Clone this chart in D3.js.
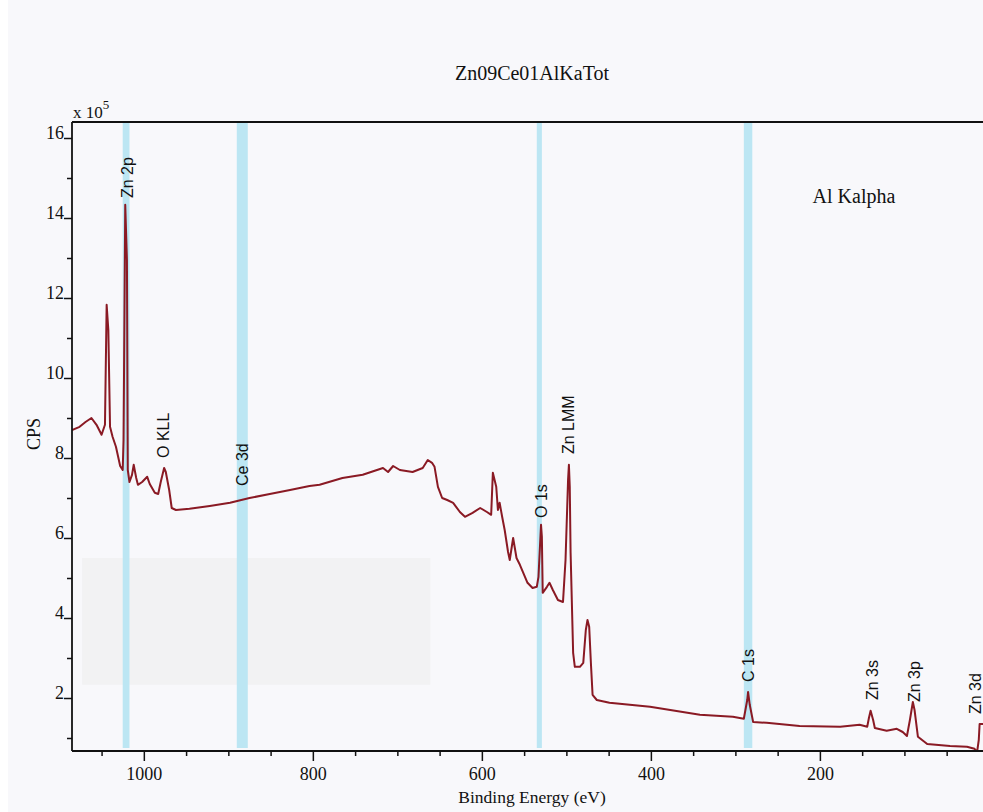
<!DOCTYPE html>
<html>
<head>
<meta charset="utf-8">
<script src="https://cdn.jsdelivr.net/npm/d3@7"></script>
<style>
  html, body { margin: 0; padding: 0; background: #ffffff; }
  svg { display: block; }
</style>
</head>
<body>
<div id="xps-chart"></div>
<script>
// spectrum: binding energy (eV) and counts (x 10^5 CPS)
const bindingEnergy = [
    1085, 1076, 1069, 1062, 1056, 1050, 1046, 1044, 1042, 1040,
    1037, 1033, 1028, 1025, 1024, 1022, 1020, 1019, 1017, 1014,
    1012, 1009, 1007, 1002, 996, 993, 987, 983, 980, 976,
    974, 970, 967, 962, 946, 922, 898, 875, 851, 827,
    804, 792, 765, 741, 717, 711, 705, 697, 682, 670,
    664, 659, 656, 652, 647, 641, 634, 626, 620, 611,
    602, 594, 589, 587, 583, 581, 579, 576, 573, 569,
    567, 563, 559, 555, 551, 546, 540, 535, 533, 530,
    529, 528, 523, 520, 516, 510, 504, 501, 498, 497,
    496, 495, 492, 490, 484, 480, 477, 475, 473, 471,
    469, 464, 449, 401, 342, 303, 290, 286, 285, 283,
    279, 263, 224, 176, 153, 144, 142, 140, 137, 135,
    121, 109, 102, 97, 93.5, 90, 88, 84, 73, 46,
    26, 17, 14, 12, 11, 7
];
const counts = [
    8.70, 8.78, 8.90, 9.00, 8.83, 8.58, 8.83, 11.83, 11.20, 8.78,
    8.53, 8.28, 7.80, 7.70, 8.45, 14.33, 12.95, 7.70, 7.40, 7.58,
    7.83, 7.50, 7.33, 7.40, 7.53, 7.35, 7.13, 7.10, 7.40, 7.75,
    7.65, 7.20, 6.75, 6.70, 6.73, 6.80, 6.88, 7.00, 7.10, 7.20,
    7.30, 7.33, 7.50, 7.58, 7.75, 7.65, 7.80, 7.70, 7.65, 7.75,
    7.95, 7.88, 7.78, 7.28, 7.00, 6.95, 6.88, 6.65, 6.53, 6.63,
    6.75, 6.65, 6.58, 7.63, 7.28, 6.70, 6.88, 6.53, 6.20, 5.65,
    5.45, 6.00, 5.50, 5.33, 5.13, 4.88, 4.75, 4.78, 5.03, 6.33,
    6.03, 4.63, 4.78, 4.88, 4.70, 4.45, 4.40, 5.45, 7.45, 7.83,
    7.28, 5.63, 3.13, 2.78, 2.78, 2.88, 3.70, 3.95, 3.78, 2.88,
    2.08, 1.95, 1.88, 1.78, 1.58, 1.53, 1.48, 1.95, 2.15, 1.83,
    1.40, 1.38, 1.30, 1.28, 1.33, 1.28, 1.50, 1.68, 1.45, 1.25,
    1.18, 1.23, 1.15, 1.05, 1.45, 1.90, 1.70, 1.03, 0.85, 0.80,
    0.78, 0.73, 0.65, 0.95, 1.35, 1.35
];

// peak labels: name, energy (eV), count level where the label starts
const peakNames = ["Zn 2p", "O KLL", "Ce 3d", "O 1s", "Zn LMM", "C 1s", "Zn 3s", "Zn 3p", "Zn 3d"];
const peakEnergy = [1019, 977, 883, 529, 498, 285, 138, 88, 16];
const peakLabelLevel = [14.5, 8.0, 7.3, 6.5, 8.1, 2.4, 1.95, 1.9, 1.6];

// highlighted energy windows (eV): from, to
const bandFrom = [1025, 890, 535, 290];
const bandTo = [1017, 877, 529, 280];

const xMajorTicks = [1000, 800, 600, 400, 200];
const xMinorTicks = [1050, 950, 900, 850, 750, 700, 650, 550, 500, 450, 350, 300, 250, 150, 100, 50];
const yMajorTicks = [2, 4, 6, 8, 10, 12, 14, 16];
const yMinorTicks = [1, 3, 5, 7, 9, 11, 13, 15];

const createSpectrum = () => {
    const width = 983;
    const height = 812;
    const left = 72, right = 983, top = 122, bottom = 751;
    const serif = "'Liberation Serif', 'Times New Roman', serif";

    const svg = d3.select("#xps-chart")
        .append("svg")
        .attr("width", width)
        .attr("height", height);

    // paper background
    svg.append("rect").attr("width", width).attr("height", height).attr("fill", "#f8f8fb");
    svg.append("rect").attr("width", 8).attr("height", height).attr("fill", "#ffffff");

    const xScale = d3.scaleLinear()
        .domain([1085, 7])
        .range([left, right]);

    const yScale = d3.scaleLinear()
        .domain([0.675, 16.4])
        .range([bottom, top]);

    // faint scan patch
    svg.append("rect")
        .attr("x", xScale(1073))
        .attr("y", yScale(5.5))
        .attr("width", xScale(661) - xScale(1073))
        .attr("height", yScale(2.33) - yScale(5.5))
        .attr("fill", "#f2f2f3");

    svg.append("defs").append("clipPath")
        .attr("id", "plot-clip")
        .append("rect")
        .attr("x", left)
        .attr("y", top)
        .attr("width", right - left)
        .attr("height", bottom - top);

    const plot = svg.append("g").attr("clip-path", "url(#plot-clip)");

    // cyan bands
    plot.selectAll("rect.band")
        .data(bandFrom.map((f, i) => ({ from: f, to: bandTo[i] })))
        .join("rect")
        .attr("class", "band")
        .attr("x", d => xScale(d.from))
        .attr("y", top)
        .attr("width", d => xScale(d.to) - xScale(d.from))
        .attr("height", bottom - top - 3)
        .attr("fill", "#bce6f3");

    // spectrum line
    const points = bindingEnergy.map((e, i) => ({ e: e, c: counts[i] }));
    const line = d3.line()
        .x(d => xScale(d.e))
        .y(d => yScale(d.c));

    plot.append("path")
        .datum(points)
        .attr("d", line)
        .attr("fill", "none")
        .attr("stroke", "#8a1a24")
        .attr("stroke-width", 2)
        .attr("stroke-linejoin", "round");

    // peak labels
    svg.selectAll("text.peak")
        .data(peakNames.map((n, i) => ({ name: n, e: peakEnergy[i], c: peakLabelLevel[i] })))
        .join("text")
        .attr("class", "peak")
        .attr("transform", d => `translate(${xScale(d.e)},${yScale(d.c)}) rotate(-90)`)
        .attr("dy", "0.35em")
        .attr("text-anchor", "start")
        .attr("font-family", "'Liberation Sans', Arial, sans-serif")
        .attr("font-size", 16)
        .attr("fill", "#111")
        .text(d => d.name);

    // axes
    const yAxis = d3.axisLeft(yScale)
        .tickValues(yMajorTicks)
        .tickSize(8)
        .tickFormat(d3.format("d"));
    const yAxisMinor = d3.axisLeft(yScale)
        .tickValues(yMinorTicks)
        .tickSize(5)
        .tickFormat("");
    const xAxis = d3.axisBottom(xScale)
        .tickValues(xMajorTicks)
        .tickSize(10)
        .tickPadding(6)
        .tickFormat(d3.format("d"));
    const xAxisMinor = d3.axisBottom(xScale)
        .tickValues(xMinorTicks)
        .tickSize(5)
        .tickFormat("");

    const gy = svg.append("g").attr("transform", `translate(${left},0)`).call(yAxis);
    svg.append("g").attr("transform", `translate(${left},0)`).call(yAxisMinor);
    const gx = svg.append("g").attr("transform", `translate(0,${bottom})`).call(xAxis);
    svg.append("g").attr("transform", `translate(0,${bottom})`).call(xAxisMinor);

    svg.selectAll(".domain").remove();
    svg.selectAll(".tick line").attr("stroke", "#111").attr("stroke-width", 1.5);

    gy.selectAll("text")
        .attr("x", -8)
        .attr("dy", "0")
        .attr("font-family", serif)
        .attr("font-size", 18)
        .attr("fill", "#111");

    gx.selectAll("text")
        .attr("font-family", serif)
        .attr("font-size", 18)
        .attr("fill", "#111");

    // frame: left, bottom, top
    svg.append("line").attr("x1", left).attr("x2", left).attr("y1", top).attr("y2", bottom)
        .attr("stroke", "#111").attr("stroke-width", 1.8);
    svg.append("line").attr("x1", left).attr("x2", right).attr("y1", bottom).attr("y2", bottom)
        .attr("stroke", "#111").attr("stroke-width", 1.8);
    svg.append("line").attr("x1", left).attr("x2", right).attr("y1", top).attr("y2", top)
        .attr("stroke", "#111").attr("stroke-width", 2);

    // texts
    svg.append("text")
        .attr("x", 532).attr("y", 80)
        .attr("text-anchor", "middle")
        .attr("font-family", serif).attr("font-size", 20).attr("fill", "#111")
        .text("Zn09Ce01AlKaTot");

    const mult = svg.append("text")
        .attr("x", 73).attr("y", 118)
        .attr("font-family", serif).attr("font-size", 17).attr("fill", "#111");
    mult.append("tspan").text("x 10");
    mult.append("tspan").attr("dy", -9).attr("font-size", 13).text("5");

    svg.append("text")
        .attr("transform", "translate(40,434) rotate(-90)")
        .attr("text-anchor", "middle")
        .attr("font-family", serif).attr("font-size", 18).attr("fill", "#111")
        .text("CPS");

    svg.append("text")
        .attr("x", 532).attr("y", 803)
        .attr("text-anchor", "middle")
        .attr("font-family", serif).attr("font-size", 17.5).attr("fill", "#111")
        .text("Binding Energy (eV)");

    svg.append("text")
        .attr("x", 854).attr("y", 203)
        .attr("text-anchor", "middle")
        .attr("font-family", serif).attr("font-size", 20).attr("fill", "#111")
        .text("Al Kalpha");
};

createSpectrum();
</script>
</body>
</html>
